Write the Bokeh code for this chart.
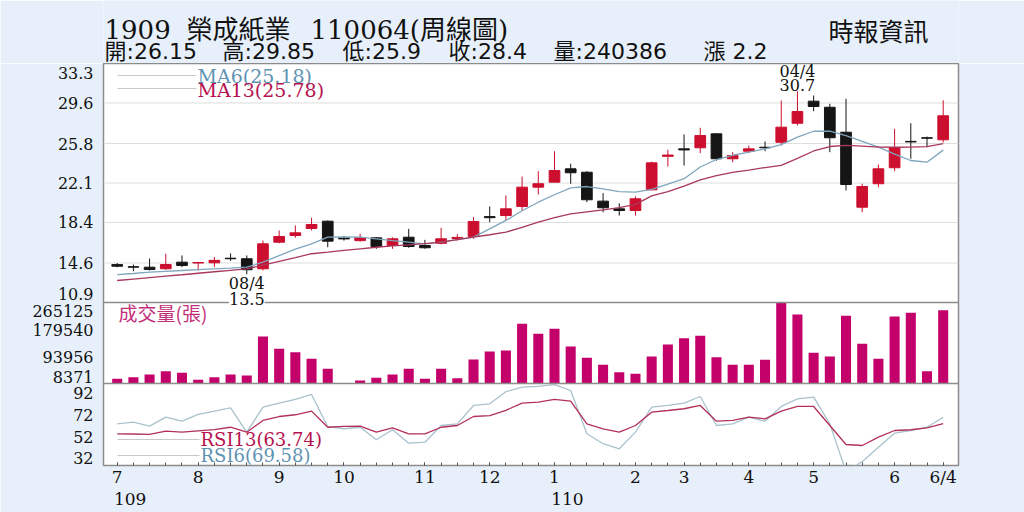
from bokeh.plotting import figure
from bokeh.layouts import column
from bokeh.models import Range1d, FixedTicker, Label, Span, Arrow, ColumnDataSource, LinearAxis
from bokeh.embed import file_html
from bokeh.resources import INLINE

# ---------------- data ----------------
opens = [14.45, 14.25, 14.21, 14.06, 14.68, 14.60, 14.62, 15.05, 15.00, 14.06,
         16.55, 17.18, 17.84, 18.52, 16.95, 16.70, 16.96, 16.24, 17.02, 16.24,
         16.45, 16.90, 17.09, 18.95, 19.05, 19.90, 21.71, 22.18, 23.43, 23.11,
         20.40, 19.68, 19.52, 21.46, 24.60, 25.30, 25.40, 26.71, 24.37, 25.08,
         25.45, 25.92, 27.70, 29.77, 29.20, 26.86, 19.83, 22.03, 23.53, 26.00,
         26.34, 26.15]
highs = [14.60, 14.46, 15.02, 15.47, 15.31, 14.70, 15.17, 15.50, 15.31, 16.71,
         17.65, 18.12, 18.84, 18.59, 17.10, 17.34, 17.02, 17.00, 17.80, 16.77,
         17.90, 17.30, 18.90, 19.90, 20.93, 22.71, 23.21, 25.08, 23.90, 23.20,
         21.15, 20.20, 20.84, 24.10, 25.21, 26.65, 27.27, 26.75, 24.99, 25.60,
         26.00, 29.83, 30.70, 30.30, 29.52, 29.99, 22.03, 23.83, 27.18, 27.70,
         26.45, 29.85]
lows = [14.20, 13.83, 13.90, 13.96, 14.21, 13.90, 14.21, 14.80, 13.50, 13.90,
        16.45, 16.96, 17.65, 16.08, 16.70, 16.60, 15.93, 15.93, 16.03, 15.93,
        16.35, 16.70, 16.87, 18.43, 18.59, 19.52, 21.02, 22.18, 22.03, 20.30,
        19.36, 19.05, 19.05, 21.40, 23.65, 23.74, 24.90, 24.20, 24.05, 24.90,
        25.08, 25.62, 27.49, 28.83, 24.99, 21.40, 19.36, 21.71, 23.21, 24.37,
        25.46, 25.90]
closes = [14.30, 14.21, 13.99, 14.46, 14.37, 14.65, 14.85, 15.00, 13.97, 16.40,
          17.09, 17.43, 18.21, 16.65, 16.86, 16.96, 16.15, 16.87, 16.15, 16.03,
          16.87, 17.00, 18.49, 18.85, 19.68, 21.71, 22.03, 23.27, 23.06, 20.53,
          19.78, 19.52, 20.62, 23.99, 24.72, 25.20, 26.55, 24.37, 24.68, 25.30,
          25.40, 27.33, 28.80, 29.27, 26.34, 21.96, 21.77, 23.43, 25.40, 25.95,
          26.30, 28.40]
volumes = [23300, 28300, 36900, 47400, 42300, 20100, 28300, 36900, 33700, 157400,
           118400, 107600, 86700, 55000, 8371, 17900, 26400, 36900, 55000, 23300,
           55000, 25200, 84500, 109800, 113000, 197600, 165900, 181800, 125700, 89800,
           67700, 44200, 39100, 94000, 132000, 152000, 159600, 91700, 67700, 67700,
           83500, 265125, 227100, 105700, 94000, 223000, 134200, 86700, 220800, 232500,
           47400, 240386]
ma6 = [13.52, 13.62, 13.74, 13.82, 13.90, 13.98, 14.05, 14.12, 14.21, 14.68,
       15.30, 15.90, 16.40, 17.02, 17.05, 17.02, 16.87, 16.70, 16.55, 16.40,
       16.55, 16.80, 17.02, 17.80, 18.59, 19.50, 20.30, 21.00, 21.65, 21.77,
       21.55, 21.30, 21.24, 21.50, 22.00, 22.50, 23.60, 24.30, 24.70, 25.00,
       25.30, 25.70, 26.40, 26.95, 26.96, 26.55, 26.00, 25.46, 24.80, 24.21,
       24.05, 25.18]
ma13 = [12.96, 13.10, 13.24, 13.37, 13.50, 13.64, 13.78, 13.92, 14.06, 14.40,
        14.75, 15.10, 15.47, 15.62, 15.78, 15.93, 16.08, 16.20, 16.30, 16.42,
        16.55, 16.80, 17.02, 17.25, 17.49, 17.95, 18.43, 18.85, 19.20, 19.40,
        19.59, 19.80, 20.10, 20.90, 21.30, 21.80, 22.40, 22.80, 23.10, 23.30,
        23.55, 23.75, 24.40, 25.10, 25.52, 25.62, 25.55, 25.46, 25.45, 25.46,
        25.50, 25.78]
rsi6 = [63.6, 65.1, 61.5, 69.7, 66.0, 72.2, 75.2, 78.3, 56.0, 78.8,
        82.5, 86.0, 90.5, 61.0, 59.1, 60.5, 49.0, 58.2, 45.9, 46.8,
        62.1, 63.6, 80.4, 81.9, 93.0, 97.1, 97.8, 99.5, 94.1, 54.5,
        45.4, 40.8, 56.0, 78.8, 80.4, 82.5, 88.6, 62.1, 63.6, 69.7,
        66.0, 79.5, 86.5, 88.0, 63.6, 20.0, 29.0, 42.2, 55.1, 57.5,
        60.5, 69.58]
rsi13 = [54.5, 54.3, 53.9, 56.9, 56.0, 57.2, 58.4, 60.5, 56.0, 66.7,
         70.3, 71.9, 75.2, 60.5, 61.2, 61.5, 56.0, 60.0, 54.5, 54.5,
         60.5, 62.1, 70.3, 71.2, 76.0, 82.5, 83.4, 85.9, 84.3, 63.6,
         59.1, 56.0, 62.1, 74.3, 75.8, 77.4, 80.4, 66.0, 66.7, 69.7,
         68.2, 75.2, 79.5, 79.5, 62.1, 44.7, 43.8, 51.4, 57.5, 58.2,
         60.0, 63.74]

price_ticks = [10.9, 14.6, 18.4, 22.1, 25.8, 29.6, 33.3]
vol_ticks = [8371, 93956, 179540, 265125]
rsi_ticks = [32, 52, 72, 92]
rsi_limits = [25.5, 100.5]
month_pos = [0, 5, 10, 14, 19, 23, 27, 32, 35, 39, 43, 48, 51]
month_labels = ["7", "8", "9", "10", "11", "12", "1", "2", "3", "4", "5", "6", "6/4"]
year_pos = [0, 27]
year_labels = ["109", "110"]

title_parts = ["1909", "榮成紙業", "110064(周線圖)"]
quote_parts = ["開:26.15", "高:29.85", "低:25.9", "收:28.4", "量:240386", "漲 2.2"]
source_text = "時報資訊"
ma_names = ["MA6(25.18)", "MA13(25.78)"]
rsi_names = ["RSI13(63.74)", "RSI6(69.58)"]
vol_title = "成交量(張)"
high_date = "04/4"
low_date = "08/4"

# ---------------- style / layout ----------------
BG = "#e7f0fa"
RED = "#cc0f2e"
BLACK = "#151515"
VOL_C = "#c4006a"
MA6_C = "#7fa6bd"
MA13_C = "#a8385c"
RSI6_C = "#a9c2cd"
RSI13_C = "#b2305a"
BLUE_TXT = "#5f93b2"
RED_TXT = "#b5124f"
SERIF = "DejaVu Serif, Noto Sans CJK TC"
SANS = "DejaVu Sans, Noto Sans CJK TC"

W = 1024
HEAD_H = 63                      # header strip (page y 0..63)
MAIN_H = 512 - HEAD_H            # main figure (page y 63..512)
ML, MR, MB = 103, 66, 47
FH = MAIN_H - MB                 # 402 frame height
FW = W - ML - MR                 # 855 frame width
FRAME_BOTTOM = HEAD_H + FH
PRICE_BAND = (0, 239)
VOL_BAND = (239, 320)
RSI_BAND = (320, FH)


def band(lo, hi, top_px, bot_px):
    span = (hi - lo) * FH / (bot_px - top_px)
    end = hi + span * top_px / FH
    return Range1d(end - span, end)


def px_from_top(v, lo, hi, top_px, bot_px):
    return bot_px - (v - lo) / (hi - lo) * (bot_px - top_px)


def px_to_price(px):
    lo, hi = price_ticks[0], price_ticks[-1]
    return hi - px / (PRICE_BAND[1] - PRICE_BAND[0]) * (hi - lo)


n = len(closes)
idx = list(range(n))
week_px = 16.196
x0 = -(116.7 - ML) / week_px

# ---------------- header strip (frame aligned with the chart frame) ----------------
head = figure(width=W, height=HEAD_H, output_backend="svg", toolbar_location=None,
              x_range=Range1d(0, FW), y_range=Range1d(0, HEAD_H),
              x_axis_location=None, y_axis_location=None, title_location=None,
              min_border_left=ML, min_border_right=MR, min_border_top=0, min_border_bottom=0)
head.background_fill_color = BG
head.border_fill_color = BG
head.outline_line_color = None
head.grid.grid_line_color = None


def hput(text, px, py, size, font, color="#111111"):
    head.add_layout(Label(x=px - ML, y=HEAD_H - py, x_units="screen", y_units="screen",
                          text=text, text_font=font, text_font_size=f"{size}px", text_color=color,
                          text_align="left", text_baseline="middle"))


for txt, px in zip(title_parts, [104, 186, 310]):
    hput(txt, px, 29, 26, SERIF)
for txt, px in zip(quote_parts, [104, 222, 342, 448, 553, 703]):
    hput(txt, px, 51, 22, SANS)
hput(source_text, 828, 29, 25, "Noto Sans CJK TC")

# ---------------- main chart ----------------
p = figure(width=W, height=MAIN_H, output_backend="svg", toolbar_location=None,
           x_range=Range1d(x0, x0 + FW / week_px),
           y_range=band(price_ticks[0], price_ticks[-1], *PRICE_BAND),
           title_location=None,
           min_border_left=ML, min_border_right=MR, min_border_top=0, min_border_bottom=MB)
p.extra_y_ranges = {"vol": band(vol_ticks[0], vol_ticks[-1], *VOL_BAND),
                    "rsi": band(rsi_limits[0], rsi_limits[1], *RSI_BAND)}
p.background_fill_color = "white"
p.border_fill_color = BG
p.outline_line_color = "#8c8c8c"
p.outline_line_width = 1.5
p.grid.grid_line_color = None

# price grid
for v in price_ticks[1:-1]:
    p.add_layout(Span(location=v, dimension="width", line_color="#dedede", line_width=1, level="underlay"))

# candles
up = [c >= o for o, c in zip(opens, closes)]
src = ColumnDataSource(dict(
    x=idx, high=highs, low=lows,
    top=[max(o, c) for o, c in zip(opens, closes)],
    bot=[min(o, c) for o, c in zip(opens, closes)],
    col=[RED if u else BLACK for u in up]))
p.segment(x0="x", y0="low", x1="x", y1="high", line_color="col", line_width=1, source=src)
p.vbar(x="x", width=0.66, top="top", bottom="bot", fill_color="col", line_color="col", line_width=1, source=src)

# moving averages
p.line(idx, ma6, line_color=MA6_C, line_width=1.3)
p.line(idx, ma13, line_color=MA13_C, line_width=1.3)

# volume
p.vbar(x=idx, width=0.62, top=volumes, bottom=min(volumes), fill_color=VOL_C, line_color=None,
       y_range_name="vol")

# RSI
p.line(idx, rsi6, line_color=RSI6_C, line_width=1.3, y_range_name="rsi")
p.line(idx, rsi13, line_color=RSI13_C, line_width=1.3, y_range_name="rsi")

# panel separators
p.add_layout(Span(location=price_ticks[0], dimension="width", line_color="#8c8c8c", line_width=1.5))
p.add_layout(Span(location=vol_ticks[0], dimension="width", line_color="#8c8c8c", line_width=1.5,
                  y_range_name="vol"))

# left axis: one axis carrying the labels of all three panels
ypos, ylab = [], []


def collect(ticks, lo, hi, bnd, low_nudge, high_nudge):
    for k, v in enumerate(ticks):
        px = px_from_top(v, lo, hi, *bnd)
        if k == 0:
            px -= low_nudge
        if k == len(ticks) - 1:
            px += high_nudge
        ypos.append(round(px_to_price(px), 4))
        ylab.append(f"{v:g}")


collect(price_ticks, price_ticks[0], price_ticks[-1], PRICE_BAND, 9, 9)
collect(vol_ticks, vol_ticks[0], vol_ticks[-1], VOL_BAND, 7, 8)
collect(rsi_ticks, rsi_limits[0], rsi_limits[1], RSI_BAND, 0, 0)

ya = p.yaxis[0]
ya.ticker = FixedTicker(ticks=ypos, minor_ticks=[])
ya.major_label_overrides = dict(zip(ypos, ylab))
ya.axis_line_color = None
ya.major_tick_line_color = None
ya.minor_tick_line_color = None
ya.major_label_standoff = 4
ya.major_label_text_font = SERIF
ya.major_label_text_font_size = "16px"
ya.major_label_text_color = "#111111"

# x axis (months)
xa = p.xaxis[0]
xa.ticker = FixedTicker(ticks=month_pos, minor_ticks=idx)
xa.major_label_overrides = dict(zip(month_pos, month_labels))
xa.axis_line_color = None
xa.major_tick_line_color = "#555555"
xa.major_tick_in = 3
xa.major_tick_out = 0
xa.minor_tick_line_color = "#555555"
xa.minor_tick_in = 3
xa.minor_tick_out = 0
xa.major_label_standoff = 1
xa.major_label_text_font = SERIF
xa.major_label_text_font_size = "17px"
xa.major_label_text_color = "#111111"

# second x axis (years)
year_shift = 0.8
yr = LinearAxis(ticker=FixedTicker(ticks=[v + year_shift for v in year_pos], minor_ticks=[]))
yr.major_label_overrides = {v + year_shift: lab for v, lab in zip(year_pos, year_labels)}
yr.axis_line_color = None
yr.major_tick_line_color = None
yr.minor_tick_line_color = None
yr.major_label_standoff = -3
yr.major_label_text_font = SERIF
yr.major_label_text_font_size = "17px"
yr.major_label_text_color = "#111111"
p.add_layout(yr, "below")


def put(text, px, py, size, font, color="#111111"):
    p.add_layout(Label(x=px - ML, y=FRAME_BOTTOM - py, x_units="screen", y_units="screen",
                       text=text, text_font=font, text_font_size=f"{size}px", text_color=color,
                       text_align="left", text_baseline="middle"))


def legend_line(py, x_end):
    p.add_layout(Arrow(end=None, x_start=117 - ML, x_end=x_end - ML,
                       y_start=FRAME_BOTTOM - py, y_end=FRAME_BOTTOM - py,
                       start_units="screen", end_units="screen", line_color="#c8c8c8", line_width=1))


legend_line(75, 196)
legend_line(88, 196)
put(ma_names[0], 197, 75, 19, SERIF, BLUE_TXT)
put(ma_names[1], 197, 89, 19, SERIF, RED_TXT)
legend_line(439, 199)
legend_line(455, 199)
put(rsi_names[0], 200, 439, 18, SERIF, RED_TXT)
put(rsi_names[1], 200, 455, 18, SERIF, BLUE_TXT)
put(vol_title, 118, 312, 19, "Noto Sans CJK TC", "#c2307a")

# extreme markers
hi_i = max(idx, key=lambda i: highs[i])
lo_i = min(idx, key=lambda i: lows[i])
for txt, off in [(f"{highs[hi_i]:g}", 6), (high_date, 20)]:
    p.add_layout(Label(x=hi_i, y=highs[hi_i], y_offset=off, text=txt, text_font=SERIF,
                       text_font_size="16px", text_color="#111111", text_align="center",
                       text_baseline="middle"))
for txt, off in [(low_date, -9), (f"{lows[lo_i]:g}", -24)]:
    p.add_layout(Label(x=lo_i, y=lows[lo_i], y_offset=off, text=txt, text_font=SERIF,
                       text_font_size="16px", text_color="#111111", text_align="center",
                       text_baseline="middle", background_fill_color="white"))

layout = column(head, p, spacing=0)
open("out.html", "w").write(file_html(layout, INLINE))
